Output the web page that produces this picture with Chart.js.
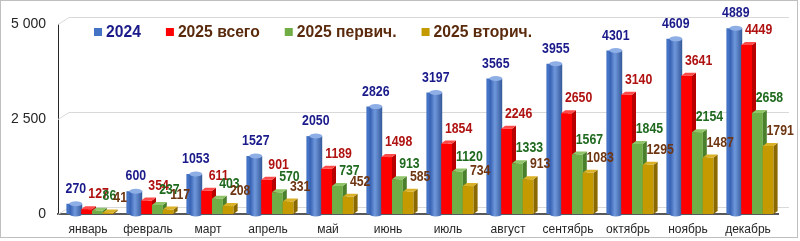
<!DOCTYPE html>
<html>
<head>
<meta charset="utf-8">
<script src="https://cdn.jsdelivr.net/npm/chart.js@4/dist/chart.umd.min.js"></script>
<style>
body{margin:0;background:#fff;}
#marco{position:relative;width:800px;height:241px;}
</style>
</head>
<body>
<div id="marco"><canvas id="myChart" width="800" height="241"></canvas></div>
<script>
// datos
var meses = ['январь','февраль','март','апрель','май','июнь','июль','август','сентябрь','октябрь','ноябрь','декабрь'];
var serie2024 = [270, 600, 1053, 1527, 2050, 2826, 3197, 3565, 3955, 4301, 4609, 4889];
var serieTotal = [127, 354, 611, 901, 1189, 1498, 1854, 2246, 2650, 3140, 3641, 4449];
var seriePrim = [86, 237, 403, 570, 737, 913, 1120, 1333, 1567, 1845, 2154, 2658];
var serieSec = [41, 117, 208, 331, 452, 585, 734, 913, 1083, 1295, 1487, 1791];
var nombres = ['2024', '2025 всего', '2025 первич.', '2025 вторич.'];
var ticksY = [0, 2500, 5000];

// colores: frente, lado, tapa, etiqueta
var estilos = [
	{front:'#4472c4', side:'#2f5597', top:'#8eaee6', text:'#1a1a8a', legend:'#1a1a8a'},
	{front:'#ff0000', side:'#b80000', top:'#ff4a4a', text:'#b01212', legend:'#5a2a0c'},
	{front:'#70ad47', side:'#4a7f2c', top:'#8fc468', text:'#1f6a1f', legend:'#5a2a0c'},
	{front:'#c49a00', side:'#8a6a00', top:'#dbb125', text:'#6e3512', legend:'#5a2a0c'}
];

var DX = 4, DY = 3, SHIFT = 4, BACKX = 11, BACKY = 7;

function miles(v){
	return String(v).replace(/\B(?=(\d{3})+(?!\d))/g, ' ');
}

// paredes 3D: rejilla al fondo
var paredes = {
	id:'paredes',
	beforeDatasetsDraw:function(chart){
		var ctx = chart.ctx, a = chart.chartArea, y = chart.scales.y;
		ctx.save();
		ctx.strokeStyle = '#d9d9d9';
		ctx.lineWidth = 1;
		ticksY.forEach(function(t){
			var py = Math.round(y.getPixelForValue(t)) + 0.5;
			ctx.beginPath();
			ctx.moveTo(a.left, py);
			ctx.lineTo(a.left + BACKX, py - BACKY);
			ctx.lineTo(a.right + BACKX, py - BACKY);
			ctx.stroke();
		});
		ctx.restore();
	}
};

// barras 3D y etiquetas
var barras3d = {
	id:'barras3d',
	afterDatasetsDraw:function(chart){
		var ctx = chart.ctx;
		var n = chart.data.labels.length;
		ctx.save();
		for (var i = 0; i < n; i++) {
			for (var d = 0; d < chart.data.datasets.length; d++) {
				var el = chart.getDatasetMeta(d).data[i];
				var s = estilos[d];
				var l = el.x - el.width / 2 + SHIFT, r = el.x + el.width / 2 + SHIFT;
				var t = el.y, b = el.base;
				if (d === 0) {
					// cilindro
					var cx = (l + r) / 2, rx = (r - l) / 2 + 1, ry = 2.5;
					var g = ctx.createLinearGradient(l, 0, r + 2, 0);
					g.addColorStop(0, '#3a64b4');
					g.addColorStop(0.35, '#6f98dc');
					g.addColorStop(1, '#2c5090');
					ctx.fillStyle = g;
					ctx.beginPath();
					ctx.moveTo(cx - rx, t);
					ctx.lineTo(cx - rx, b);
					ctx.ellipse(cx, b, rx, ry, 0, Math.PI, 0, true);
					ctx.lineTo(cx + rx, t);
					ctx.closePath();
					ctx.fill();
					ctx.fillStyle = s.top;
					ctx.beginPath();
					ctx.ellipse(cx, t, rx, ry, 0, 0, Math.PI * 2);
					ctx.fill();
				} else {
					ctx.fillStyle = s.front;
					ctx.fillRect(l, t, r - l, b - t);
					ctx.fillStyle = s.side;
					ctx.beginPath();
					ctx.moveTo(r, t); ctx.lineTo(r + DX, t - DY);
					ctx.lineTo(r + DX, b - DY); ctx.lineTo(r, b);
					ctx.closePath(); ctx.fill();
					ctx.fillStyle = s.top;
					ctx.beginPath();
					ctx.moveTo(l, t); ctx.lineTo(l + DX, t - DY);
					ctx.lineTo(r + DX, t - DY); ctx.lineTo(r, t);
					ctx.closePath(); ctx.fill();
				}
			}
		}
		// etiquetas
		ctx.font = 'bold 15px "Liberation Sans", Arial, sans-serif';
		ctx.textAlign = 'center';
		ctx.textBaseline = 'middle';
		for (var d2 = 0; d2 < chart.data.datasets.length; d2++) {
			var meta = chart.getDatasetMeta(d2);
			var datos = chart.data.datasets[d2].data;
			meta.data.forEach(function(el, k){
				var px = el.x + SHIFT + (d2 === 0 ? 0 : 12);
				var py = el.y - 15;
				ctx.save();
				ctx.translate(px, py);
				ctx.scale(0.82, 1);
				ctx.fillStyle = estilos[d2].text;
				ctx.fillText(String(datos[k]), 0, 0);
				ctx.restore();
			});
		}
		ctx.restore();
	},
	afterDraw:function(chart){
		var ctx = chart.ctx;
		ctx.save();
		// leyenda
		ctx.font = 'bold 15.7px "Liberation Sans", Arial, sans-serif';
		ctx.textBaseline = 'middle';
		ctx.textAlign = 'left';
		var x = 94, yc = 32;
		chart.data.datasets.forEach(function(ds, k){
			ctx.fillStyle = estilos[k].front;
			ctx.fillRect(x, yc - 4, 8, 8);
			ctx.fillStyle = estilos[k].legend;
			ctx.fillText(ds.label, x + 12, yc + 1);
			x += 12 + ctx.measureText(ds.label).width + 25;
		});
		// marco
		ctx.strokeStyle = '#bfbfbf';
		ctx.lineWidth = 1;
		ctx.strokeRect(0.5, 0.5, 797, 237);
		ctx.restore();
	}
};

var myChart = document.getElementById('myChart');

var grafica = new Chart(myChart, {
	type:'bar',
	data:{
		labels:meses,
		datasets:[
			{label:nombres[0], data:serie2024, backgroundColor:estilos[0].front},
			{label:nombres[1], data:serieTotal, backgroundColor:estilos[1].front},
			{label:nombres[2], data:seriePrim, backgroundColor:estilos[2].front},
			{label:nombres[3], data:serieSec, backgroundColor:estilos[3].front}
		]
	},
	options:{
		responsive:false,
		animation:false,
		datasets:{bar:{barPercentage:1, categoryPercentage:0.72}},
		layout:{padding:{top:24, right:22, bottom:0, left:0}},
		plugins:{legend:{display:false}, tooltip:{enabled:false}},
		scales:{
			x:{
				grid:{display:false, drawTicks:false},
				border:{display:true, color:'#595959', width:2},
				ticks:{color:'#262626', padding:8, maxRotation:0, minRotation:0, autoSkip:false,
					font:{family:'"Liberation Sans", Arial, sans-serif', size:12}},
				afterFit:function(s){ s.height = 27; }
			},
			y:{
				min:0, max:5000,
				grid:{display:false, drawTicks:false},
				border:{display:true, color:'#262626', width:1},
				ticks:{stepSize:2500, color:'#262626', padding:12,
					font:{family:'"Liberation Sans", Arial, sans-serif', size:14},
					callback:function(v){ return miles(v); }},
				afterFit:function(s){ s.width = 58; }
			}
		}
	},
	plugins:[paredes, barras3d]
});
</script>
</body>
</html>
